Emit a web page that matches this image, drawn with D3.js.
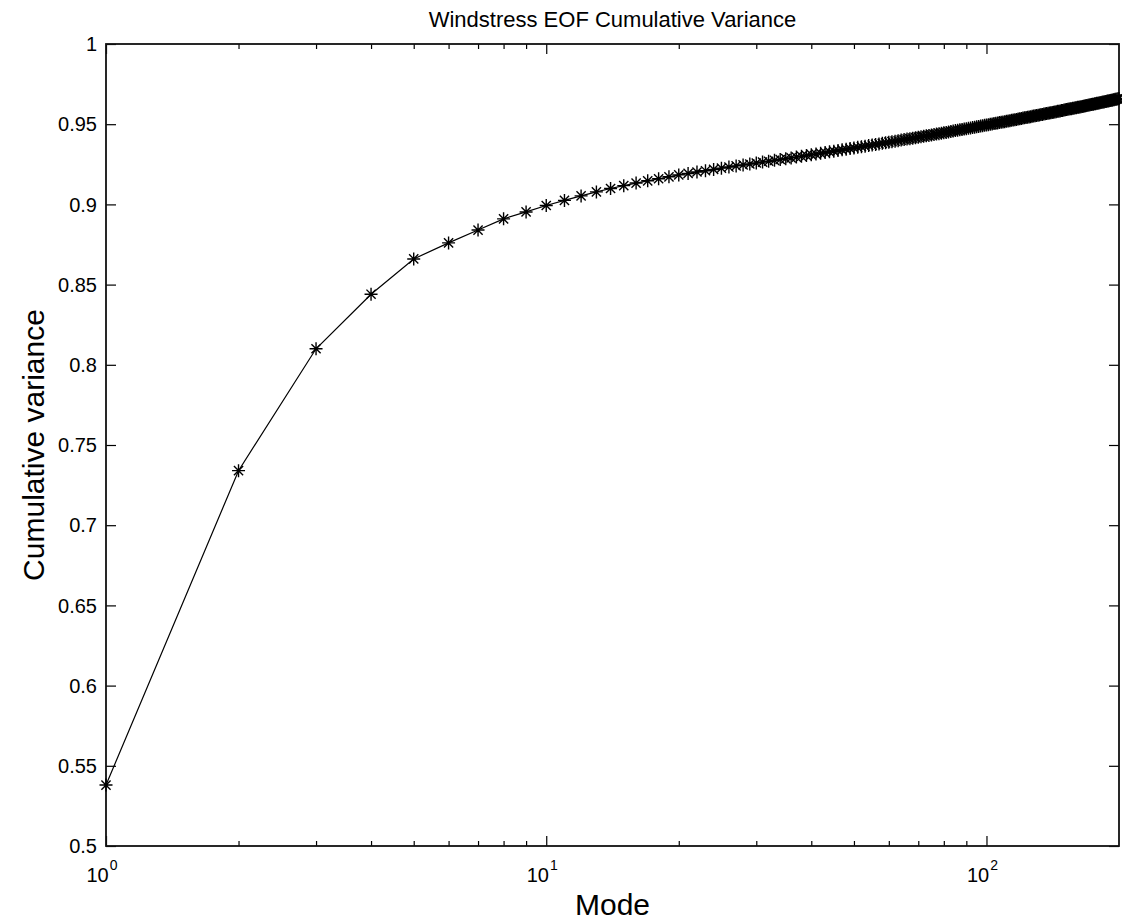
<!DOCTYPE html>
<html>
<head>
<meta charset="utf-8">
<script src="https://cdn.jsdelivr.net/npm/d3@7"></script>
<style>
  html, body { margin: 0; padding: 0; background: #fff; }
  svg { display: block; }
  text { font-family: "Liberation Sans", Arial, Helvetica, sans-serif; fill: #000; }
</style>
</head>
<body>
<svg id="chart" width="1122" height="922"></svg>
<script>
// Cumulative fraction of variance explained by the windstress EOF modes 1..200
const modes = d3.range(1, 201);
const cumVariance = [
  0.5380, 0.7340, 0.8100, 0.8440, 0.8660, 0.8760, 0.8840, 0.8910, 0.8953, 0.8993,
  0.9025, 0.9053, 0.9078, 0.9099, 0.9117, 0.9133, 0.9147, 0.9160, 0.9172, 0.9184,
  0.9193, 0.9202, 0.9210, 0.9218, 0.9226, 0.9233, 0.9240, 0.9246, 0.9252, 0.9258,
  0.9264, 0.9269, 0.9275, 0.9280, 0.9285, 0.9290, 0.9295, 0.9300, 0.9305, 0.9310,
  0.9314, 0.9319, 0.9323, 0.9328, 0.9332, 0.9336, 0.9340, 0.9344, 0.9348, 0.9352,
  0.9356, 0.9360, 0.9363, 0.9367, 0.9370, 0.9374, 0.9377, 0.9381, 0.9384, 0.9388,
  0.9391, 0.9394, 0.9397, 0.9401, 0.9404, 0.9407, 0.9410, 0.9413, 0.9416, 0.9419,
  0.9422, 0.9425, 0.9428, 0.9430, 0.9433, 0.9436, 0.9439, 0.9441, 0.9444, 0.9447,
  0.9449, 0.9452, 0.9455, 0.9457, 0.9460, 0.9462, 0.9465, 0.9467, 0.9470, 0.9472,
  0.9474, 0.9477, 0.9479, 0.9481, 0.9484, 0.9486, 0.9488, 0.9491, 0.9493, 0.9495,
  0.9497, 0.9499, 0.9501, 0.9504, 0.9506, 0.9508, 0.9510, 0.9512, 0.9514, 0.9516,
  0.9518, 0.9520, 0.9522, 0.9524, 0.9526, 0.9528, 0.9530, 0.9532, 0.9534, 0.9536,
  0.9538, 0.9540, 0.9541, 0.9543, 0.9545, 0.9547, 0.9549, 0.9551, 0.9552, 0.9554,
  0.9556, 0.9558, 0.9560, 0.9561, 0.9563, 0.9565, 0.9566, 0.9568, 0.9570, 0.9572,
  0.9573, 0.9575, 0.9576, 0.9578, 0.9580, 0.9581, 0.9583, 0.9585, 0.9586, 0.9588,
  0.9590, 0.9591, 0.9593, 0.9594, 0.9596, 0.9597, 0.9599, 0.9600, 0.9602, 0.9603,
  0.9605, 0.9606, 0.9608, 0.9609, 0.9611, 0.9612, 0.9614, 0.9615, 0.9617, 0.9618,
  0.9620, 0.9621, 0.9623, 0.9624, 0.9625, 0.9627, 0.9628, 0.9630, 0.9631, 0.9632,
  0.9634, 0.9635, 0.9637, 0.9638, 0.9639, 0.9641, 0.9642, 0.9644, 0.9645, 0.9646,
  0.9648, 0.9649, 0.9650, 0.9652, 0.9653, 0.9655, 0.9656, 0.9657, 0.9659, 0.9660
];

// Axis ticks
const yTicks = [0.5, 0.55, 0.6, 0.65, 0.7, 0.75, 0.8, 0.85, 0.9, 0.95, 1];
const yTickLabels = ["0.5", "0.55", "0.6", "0.65", "0.7", "0.75", "0.8", "0.85", "0.9", "0.95", "1"];
const xMajorTicks = [1, 10, 100];
const xMajorExponents = ["0", "1", "2"];
const xMinorTicks = [2, 3, 4, 5, 6, 7, 8, 9, 20, 30, 40, 50, 60, 70, 80, 90];

const titleText = "Windstress EOF Cumulative Variance";
const xLabelText = "Mode";
const yLabelText = "Cumulative variance";

const svg = d3.select("#chart");
const plot = { left: 106, right: 1119, top: 44, bottom: 846 };

const x = d3.scaleLog().domain([1, 200]).range([plot.left, plot.right]);
const y = d3.scaleLinear().domain([0.5, 1]).range([plot.bottom, plot.top]);

const majorLen = 10, minorLen = 5;

// Ticks point inward on all four sides of the box
function styleAxis(g) {
  g.select(".domain").remove();
  g.selectAll(".tick line").attr("stroke", "#000").attr("stroke-width", 1.2);
  g.selectAll(".tick text").remove();
}

svg.append("g").attr("transform", `translate(0,${plot.bottom})`)
  .call(d3.axisBottom(x).tickValues(xMajorTicks).tickSizeInner(-majorLen).tickSizeOuter(0)).call(styleAxis);
svg.append("g").attr("transform", `translate(0,${plot.bottom})`)
  .call(d3.axisBottom(x).tickValues(xMinorTicks).tickSizeInner(-minorLen).tickSizeOuter(0)).call(styleAxis);
svg.append("g").attr("transform", `translate(0,${plot.top})`)
  .call(d3.axisTop(x).tickValues(xMajorTicks).tickSizeInner(-majorLen).tickSizeOuter(0)).call(styleAxis);
svg.append("g").attr("transform", `translate(0,${plot.top})`)
  .call(d3.axisTop(x).tickValues(xMinorTicks).tickSizeInner(-minorLen).tickSizeOuter(0)).call(styleAxis);
svg.append("g").attr("transform", `translate(${plot.left},0)`)
  .call(d3.axisLeft(y).tickValues(yTicks).tickSizeInner(-majorLen).tickSizeOuter(0)).call(styleAxis);
svg.append("g").attr("transform", `translate(${plot.right},0)`)
  .call(d3.axisRight(y).tickValues(yTicks).tickSizeInner(-majorLen).tickSizeOuter(0)).call(styleAxis);

// Box
svg.append("rect")
  .attr("x", plot.left).attr("y", plot.top)
  .attr("width", plot.right - plot.left).attr("height", plot.bottom - plot.top)
  .attr("fill", "none").attr("stroke", "#111").attr("stroke-width", 1.8);

// Y tick labels
svg.append("g").selectAll("text")
  .data(yTicks)
  .join("text")
  .attr("x", plot.left - 9)
  .attr("y", d => y(d))
  .attr("dy", "0.36em")
  .attr("text-anchor", "end")
  .attr("font-size", 20)
  .text((d, i) => yTickLabels[i]);

// X tick labels as powers of ten
const xl = svg.append("g").selectAll("text")
  .data(xMajorTicks)
  .join("text")
  .attr("x", d => x(d) - 4)
  .attr("y", plot.bottom + 36)
  .attr("text-anchor", "middle")
  .attr("font-size", 20);
xl.append("tspan").text("10");
xl.append("tspan").attr("font-size", 14).attr("dy", -12).attr("dx", 1)
  .text((d, i) => xMajorExponents[i]);

// Title and axis labels
svg.append("text")
  .attr("x", (plot.left + plot.right) / 2).attr("y", 27)
  .attr("text-anchor", "middle").attr("font-size", 22)
  .text(titleText);
svg.append("text")
  .attr("x", (plot.left + plot.right) / 2).attr("y", 915)
  .attr("text-anchor", "middle").attr("font-size", 30)
  .text(xLabelText);
svg.append("text")
  .attr("transform", `translate(44,${(plot.top + plot.bottom) / 2}) rotate(-90)`)
  .attr("text-anchor", "middle").attr("font-size", 30)
  .text(yLabelText);

// Data line
const data = modes.map((m, i) => ({ mode: m, value: cumVariance[i] }));
svg.append("path")
  .datum(data)
  .attr("fill", "none").attr("stroke", "#000").attr("stroke-width", 1.2)
  .attr("d", d3.line().x(d => x(d.mode)).y(d => y(d.value)));

// Eight-armed asterisk marker (plus + cross)
const asteriskMarker = {
  draw(context, size) {
    const r = Math.sqrt(size) / 2;
    const q = r * 0.7071;
    context.moveTo(-r, 0); context.lineTo(r, 0);
    context.moveTo(0, -r); context.lineTo(0, r);
    context.moveTo(-q, -q); context.lineTo(q, q);
    context.moveTo(-q, q); context.lineTo(q, -q);
  }
};
svg.append("g").selectAll("path")
  .data(data)
  .join("path")
  .attr("transform", d => `translate(${x(d.mode)},${y(d.value)})`)
  .attr("d", d3.symbol().type(asteriskMarker).size(169))
  .attr("fill", "none").attr("stroke", "#000").attr("stroke-width", 1.4);
</script>
</body>
</html>
